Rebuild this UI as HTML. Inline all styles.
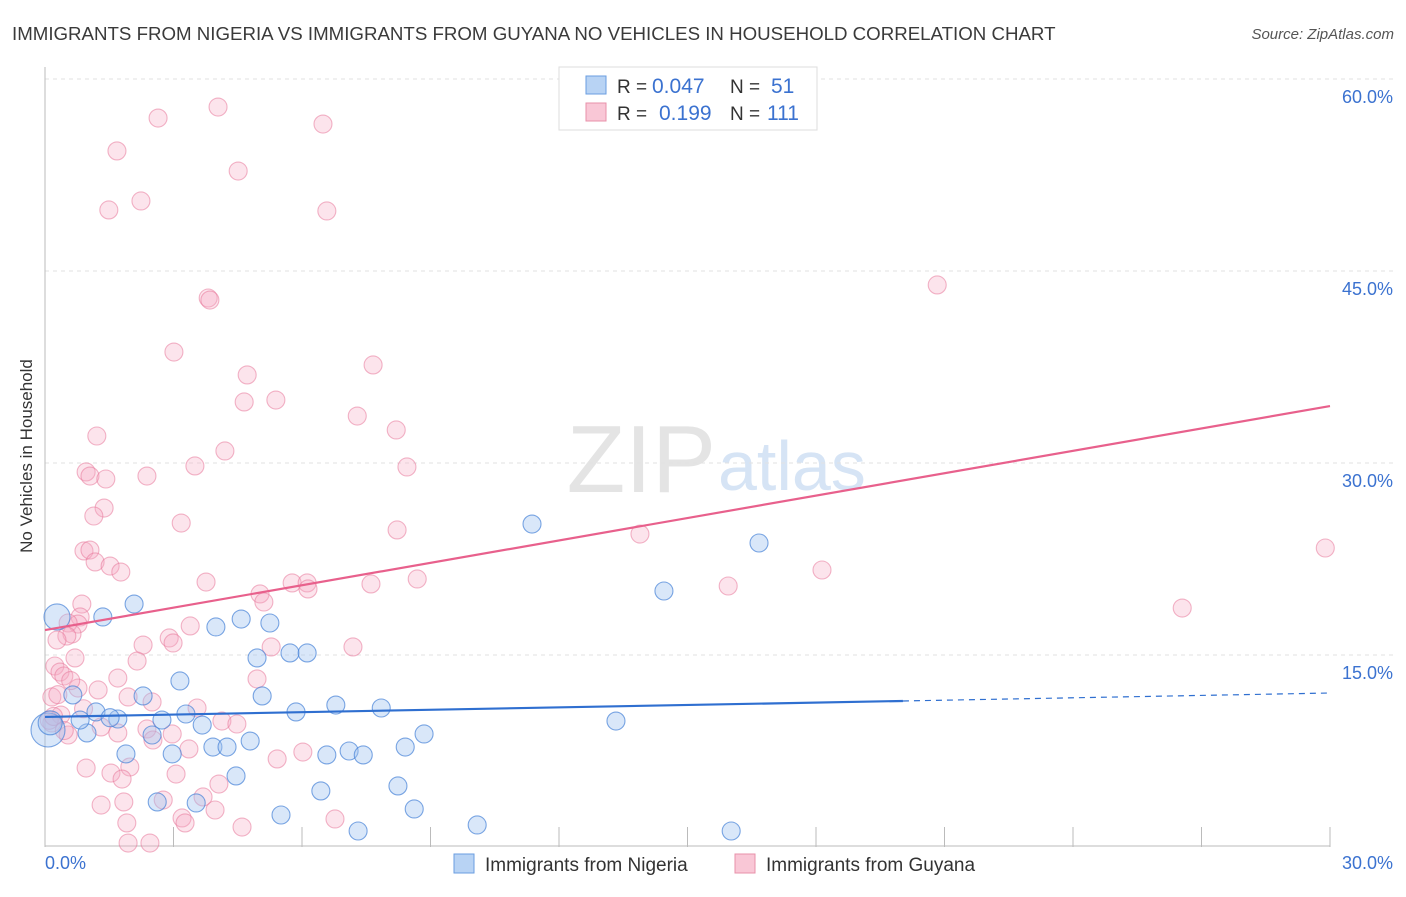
<!DOCTYPE html>
<html><head><meta charset="utf-8"><style>
body{margin:0;background:#fff;font-family:"Liberation Sans",sans-serif;}
svg text{font-family:"Liberation Sans",sans-serif;}
</style></head><body>
<svg id="chart" width="1406" height="892" viewBox="0 0 1406 892" xmlns="http://www.w3.org/2000/svg">
<text x="12" y="40" font-size="18.7" fill="#3a3a3a">IMMIGRANTS FROM NIGERIA VS IMMIGRANTS FROM GUYANA NO VEHICLES IN HOUSEHOLD CORRELATION CHART</text>
<text x="1394" y="39" font-size="15" fill="#555" font-style="italic" text-anchor="end">Source: ZipAtlas.com</text>
<text x="32" y="456" font-size="17" fill="#333" text-anchor="middle" transform="rotate(-90 32 456)">No Vehicles in Household</text>
<text x="716" y="492" font-size="96" fill="#e4e4e4" text-anchor="end" font-family="Liberation Serif">ZIP</text>
<text x="718" y="490" font-size="70" fill="#d6e4f5">atlas</text>
<g id="grid"></g><g id="axes"></g><g id="pts"></g><g id="lines"></g>
<g>
<rect x="559" y="67" width="258" height="63" fill="#fff" stroke="#ddd"/>
<rect x="586" y="76" width="20" height="18" fill="#b8d3f4" stroke="#6a9ee0"/>
<rect x="586" y="103" width="20" height="18" fill="#f9c7d6" stroke="#e890aa"/>
<text x="617" y="93" font-size="19" fill="#333">R =</text>
<text x="652" y="93" font-size="21" fill="#3b72d0">0.047</text>
<text x="730" y="93" font-size="19" fill="#333">N =</text>
<text x="771" y="93" font-size="21" fill="#3b72d0">51</text>
<text x="617" y="120" font-size="19" fill="#333">R =</text>
<text x="659" y="120" font-size="21" fill="#3b72d0">0.199</text>
<text x="730" y="120" font-size="19" fill="#333">N =</text>
<text x="767" y="120" font-size="21" fill="#3b72d0">111</text>
</g>
<g>
<rect x="454" y="854" width="20" height="19" fill="#b8d3f4" stroke="#6a9ee0"/>
<text x="485" y="871" font-size="19" fill="#333">Immigrants from Nigeria</text>
<rect x="735" y="854" width="20" height="19" fill="#f9c7d6" stroke="#e890aa"/>
<text x="766" y="871" font-size="19" fill="#333">Immigrants from Guyana</text>
</g>
</svg>
<script>
const yTicks=[15,30,45,60];
const yTickLabels=["15.0%","30.0%","45.0%","60.0%"];
const xTickLabels=["0.0%","30.0%"];
const blueX=[0.28,0.07,1.35,2.08,0.98,1.19,1.70,0.82,0.65,1.89,2.29,3.15,2.73,2.50,2.62,2.97,3.29,3.53,3.67,3.92,3.99,4.25,4.46,4.58,4.79,4.95,5.07,5.25,5.51,5.72,5.86,6.12,6.44,6.58,6.79,7.10,7.31,7.43,7.85,8.24,8.41,8.62,8.85,10.09,11.37,13.33,14.45,16.02,16.67,0.12,1.52];
const blueY=[17.97,9.14,17.97,18.98,8.91,10.55,10.0,9.92,11.88,7.27,11.80,12.97,9.92,8.75,3.52,7.27,10.39,3.44,9.53,7.81,17.19,7.81,5.55,17.81,8.28,14.77,11.80,17.5,2.5,15.16,10.55,15.16,4.38,7.19,11.09,7.5,1.25,7.19,10.86,4.77,7.81,2.97,8.83,1.72,25.23,9.84,20.0,1.25,23.75,9.7,10.1];
const blueR=[13,17,9,9,9,9,9,9,9,9,9,9,9,9,9,9,9,9,9,9,9,9,9,9,9,9,9,9,9,9,9,9,9,9,9,9,9,9,9,9,9,9,9,9,9,9,9,9,9,12,9];
const pinkX=[4.04,2.64,6.49,1.68,4.51,2.24,1.49,6.58,20.83,3.81,3.85,3.01,7.66,4.72,4.65,5.39,7.29,8.20,4.20,1.21,3.50,8.45,0.96,1.05,1.42,2.38,1.38,1.14,3.18,8.22,13.89,0.91,1.05,29.89,1.17,1.52,1.77,18.14,8.69,3.76,5.77,6.12,6.14,7.61,15.95,5.02,5.11,0.86,26.55,0.82,0.77,0.54,0.63,3.39,0.51,0.28,2.90,2.99,2.29,7.19,5.28,0.70,2.15,0.23,0.35,0.44,1.70,4.95,1.24,1.94,0.77,0.16,3.55,2.50,4.13,4.48,0.37,1.31,0.16,2.38,1.70,2.97,0.54,2.52,3.36,5.42,6.02,1.98,0.96,1.54,3.06,1.80,4.06,3.69,2.76,1.84,1.31,3.97,3.20,3.27,4.60,1.91,6.77,2.45,1.94,0.1,0.3,0.6,0.2,0.45,0.9];
const pinkY=[57.81,56.95,56.48,54.38,52.81,50.47,49.77,49.69,43.91,42.89,42.73,38.67,37.66,36.88,34.77,34.92,33.67,32.58,30.94,32.11,29.77,29.69,29.30,28.98,28.75,28.98,26.48,25.86,25.31,24.77,24.45,23.13,23.20,23.36,22.27,21.95,21.48,21.64,20.94,20.70,20.63,20.63,20.16,20.55,20.39,19.77,19.14,18.98,18.67,17.97,17.42,17.50,16.64,17.27,16.48,16.17,16.33,15.94,15.78,15.63,15.63,14.77,14.53,14.14,13.67,13.36,13.20,13.13,12.27,11.72,12.42,11.72,10.86,11.33,9.84,9.61,10.31,9.38,9.69,9.22,8.91,8.83,8.75,8.36,7.66,6.88,7.42,6.25,6.17,5.78,5.70,5.31,4.92,3.91,3.67,3.52,3.28,2.89,2.27,1.88,1.56,1.88,2.19,0.31,0.31,9.9,11.9,13.0,10.2,9.1,10.8];
const blueTrend=[10.16,12.03];
const blueSolidEnd=20.03;
const pinkTrend=[16.95,34.45];
const NS='http://www.w3.org/2000/svg';
const X0=45,X1=1330,Y0=847,PX_PER=192/15;
function xs(v){return X0+v/30*(X1-X0);}
function ys(v){return Y0-v*PX_PER;}
function mk(tag,attrs,parent){const e=document.createElementNS(NS,tag);for(const k in attrs)e.setAttribute(k,attrs[k]);document.getElementById(parent).appendChild(e);return e;}
yTicks.forEach((t,i)=>{
 const l=mk('line',{x1:X0,x2:1394,y1:ys(t),y2:ys(t),stroke:'#e2e2e2','stroke-dasharray':'4,4'},'grid');
 
 
 const tx=mk('text',{x:1393,y:ys(t)+24,'font-size':18,fill:'#3b72d0','text-anchor':'end'},'grid');
 tx.textContent=yTickLabels[i];
 
 
});
const ax=mk('line',{x1:X0,x2:X0,y1:67,y2:Y0,stroke:'#bbb'},'axes');


const bx=mk('line',{x1:X0,x2:X1,y1:Y0-1,y2:Y0-1,stroke:'#bbb'},'axes');


for(let i=1;i<=10;i++){const t=mk('line',{x1:xs(i*3),x2:xs(i*3),y1:Y0-20,y2:Y0,stroke:'#bbb'},'axes');
 
 }
[0,30].forEach((v,i)=>{const t=mk('text',{x:i?1393:45,y:869,'font-size':18,fill:'#3b72d0','text-anchor':i?'end':'start'},'axes');t.textContent=xTickLabels[i];
 
 });
pinkX.forEach((v,i)=>{const c=mk('circle',{cx:xs(v),cy:ys(pinkY[i]),r:9,fill:'rgba(246,170,195,0.32)',stroke:'rgba(232,120,155,0.55)','stroke-width':1.1},'pts');
 
 });
blueX.forEach((v,i)=>{const c=mk('circle',{cx:xs(v),cy:ys(blueY[i]),r:blueR[i],fill:'rgba(160,196,240,0.4)',stroke:'rgba(70,130,215,0.7)','stroke-width':1.1},'pts');
 
 });
function ly(tr,v){return tr[0]+(tr[1]-tr[0])*v/30;}
const b1=mk('line',{x1:xs(0),y1:ys(ly(blueTrend,0)),x2:xs(blueSolidEnd),y2:ys(ly(blueTrend,blueSolidEnd)),stroke:'#2f6fd0','stroke-width':2.2},'lines');


const b2=mk('line',{x1:xs(blueSolidEnd),y1:ys(ly(blueTrend,blueSolidEnd)),x2:xs(30),y2:ys(ly(blueTrend,30)),stroke:'#2f6fd0','stroke-width':1.2,'stroke-dasharray':'6,5'},'lines');


const p1=mk('line',{x1:xs(0),y1:ys(pinkTrend[0]),x2:xs(30),y2:ys(pinkTrend[1]),stroke:'#e8608c','stroke-width':2.2},'lines');


</script>
</body></html>
